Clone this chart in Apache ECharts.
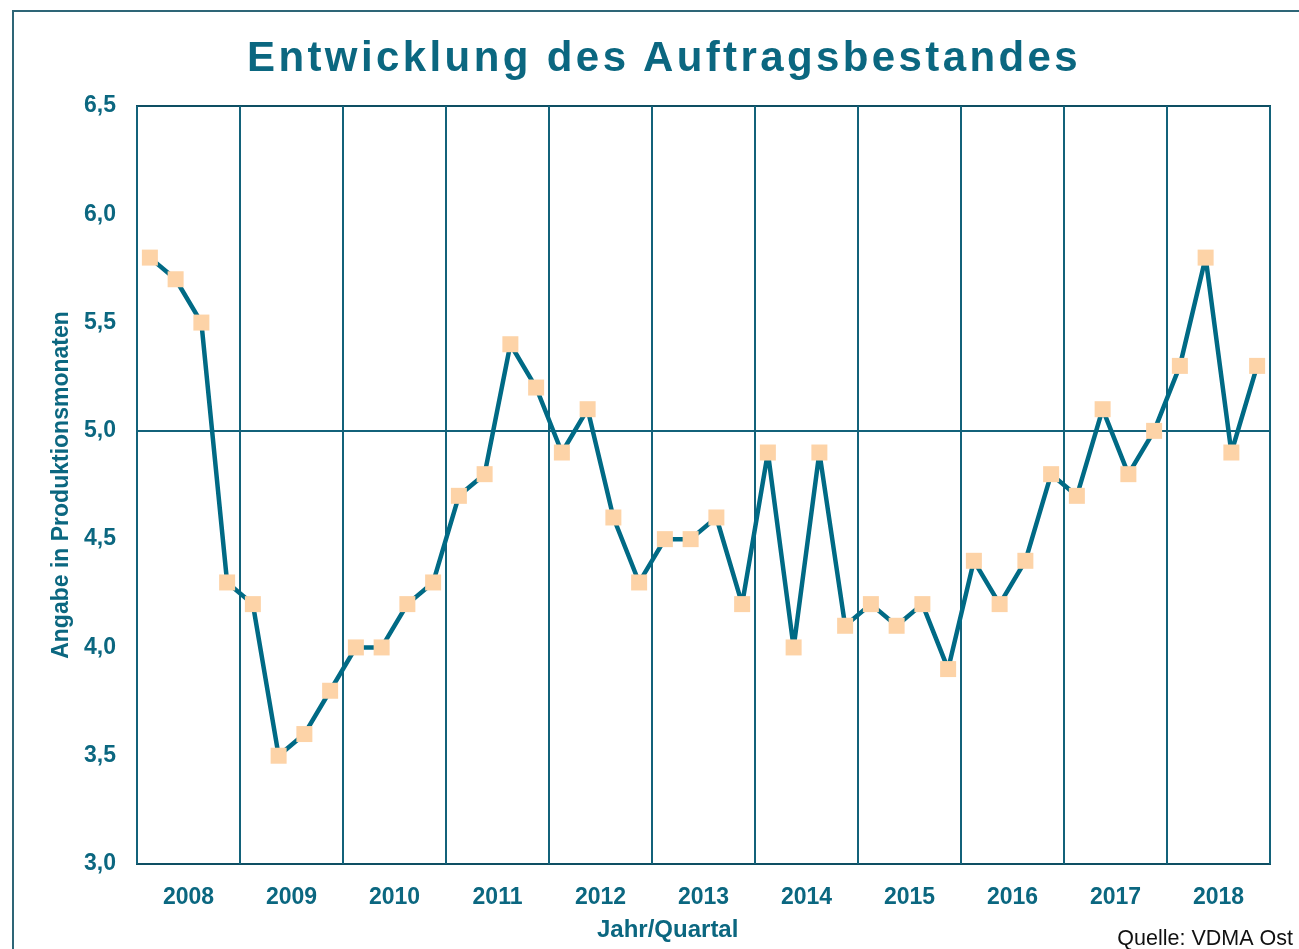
<!DOCTYPE html>
<html>
<head>
<meta charset="utf-8">
<script src="https://cdn.jsdelivr.net/npm/echarts@6/dist/echarts.min.js"></script>
<style>
  html, body { margin: 0; padding: 0; background: #fff; }
  #wrap { position: relative; width: 1299px; height: 949px; overflow: hidden; }
  #main { position: absolute; left: 0; top: 0; width: 1299px; height: 949px; }
  #titel {
    position: absolute; left: 247px; top: 36px; margin: 0;
    font: bold 42px/42px "Liberation Sans", Arial, sans-serif;
    letter-spacing: 3.4px; color: #0b6780; white-space: nowrap;
  }
</style>
</head>
<body>
<div id="wrap">
  <div id="main"></div>
  <h1 id="titel">Entwicklung des Auftragsbestandes</h1>
</div>
<script>
// Jahre (Beschriftung der x-Achse)
var jahre = ['2008', '2009', '2010', '2011', '2012', '2013', '2014', '2015', '2016', '2017', '2018'];
// Quartale als Kategorien
var quartale = [];
for (var j = 0; j < jahre.length; j++) {
    for (var q = 1; q <= 4; q++) { quartale.push(jahre[j] + ' Q' + q); }
}
// Auftragsbestand in Produktionsmonaten
var bestand = [
    5.8, 5.7, 5.5, 4.3,
    4.2, 3.5, 3.6, 3.8,
    4.0, 4.0, 4.2, 4.3,
    4.7, 4.8, 5.4, 5.2,
    4.9, 5.1, 4.6, 4.3,
    4.5, 4.5, 4.6, 4.2,
    4.9, 4.0, 4.9, 4.1,
    4.2, 4.1, 4.2, 3.9,
    4.4, 4.2, 4.4, 4.8,
    4.7, 5.1, 4.8, 5.0,
    5.3, 5.8, 4.9, 5.3
];

var blau = '#0b6780';
var linie = '#006a85';
var gitter = '#13627a';
var schrift = '"Liberation Sans", Arial, sans-serif';

var myChart = echarts.init(document.getElementById('main'));

var option = {
    backgroundColor: '#fff',
    animation: false,
    grid: {
        left: 137, top: 106, width: 1133, height: 758,
        show: true, borderColor: '#0e4f63', borderWidth: 2, backgroundColor: 'transparent'
    },
    xAxis: [{
        type: 'category',
        data: quartale,
        boundaryGap: true,
        axisLine: { show: false },
        axisTick: { show: false },
        axisLabel: { show: false },
        splitLine: { show: false }
    }, {
        type: 'category',
        data: jahre,
        position: 'bottom',
        boundaryGap: true,
        axisLine: { show: false },
        axisTick: { show: false },
        axisLabel: { color: blau, fontSize: 23, fontWeight: 'bold', fontFamily: schrift, margin: 22 },
        splitLine: { show: true, lineStyle: { color: gitter, width: 2 } }
    }],
    yAxis: {
        type: 'value',
        min: 3, max: 6.5, interval: 0.5,
        name: 'Angabe in Produktionsmonaten',
        nameLocation: 'middle',
        nameGap: 62,
        nameTextStyle: { color: blau, fontSize: 23, fontWeight: 'bold', fontFamily: schrift },
        axisLine: { show: false },
        axisTick: { show: false },
        axisLabel: {
            color: blau, fontSize: 23, fontWeight: 'bold', fontFamily: schrift, margin: 21,
            formatter: function (v) { return v.toFixed(1).replace('.', ','); }
        },
        splitLine: {
            show: true,
            lineStyle: {
                width: 2,
                color: ['transparent', 'transparent', 'transparent', 'transparent', gitter, 'transparent', 'transparent', 'transparent']
            }
        }
    },
    graphic: [{
        type: 'rect', silent: true, z: 0,
        shape: { x: 13, y: 11, width: 1400, height: 1000 },
        style: { fill: 'none', stroke: '#2e6677', lineWidth: 2 }
    }, {
        type: 'text', left: 597, top: 918,
        style: { text: 'Jahr/Quartal', fill: blau, font: 'bold 24px ' + schrift }
    }, {
        type: 'text', right: 6, top: 928,
        style: { text: 'Quelle: VDMA Ost', fill: '#111', font: '21.5px ' + schrift }
    }],
    series: [{
        name: 'Auftragsbestand',
        type: 'line',
        xAxisIndex: 0,
        data: bestand,
        symbol: 'rect',
        symbolSize: 16,
        lineStyle: { color: linie, width: 4.5 },
        itemStyle: { color: '#fdd3a7' }
    }]
};
myChart.setOption(option);
</script>
</body>
</html>
